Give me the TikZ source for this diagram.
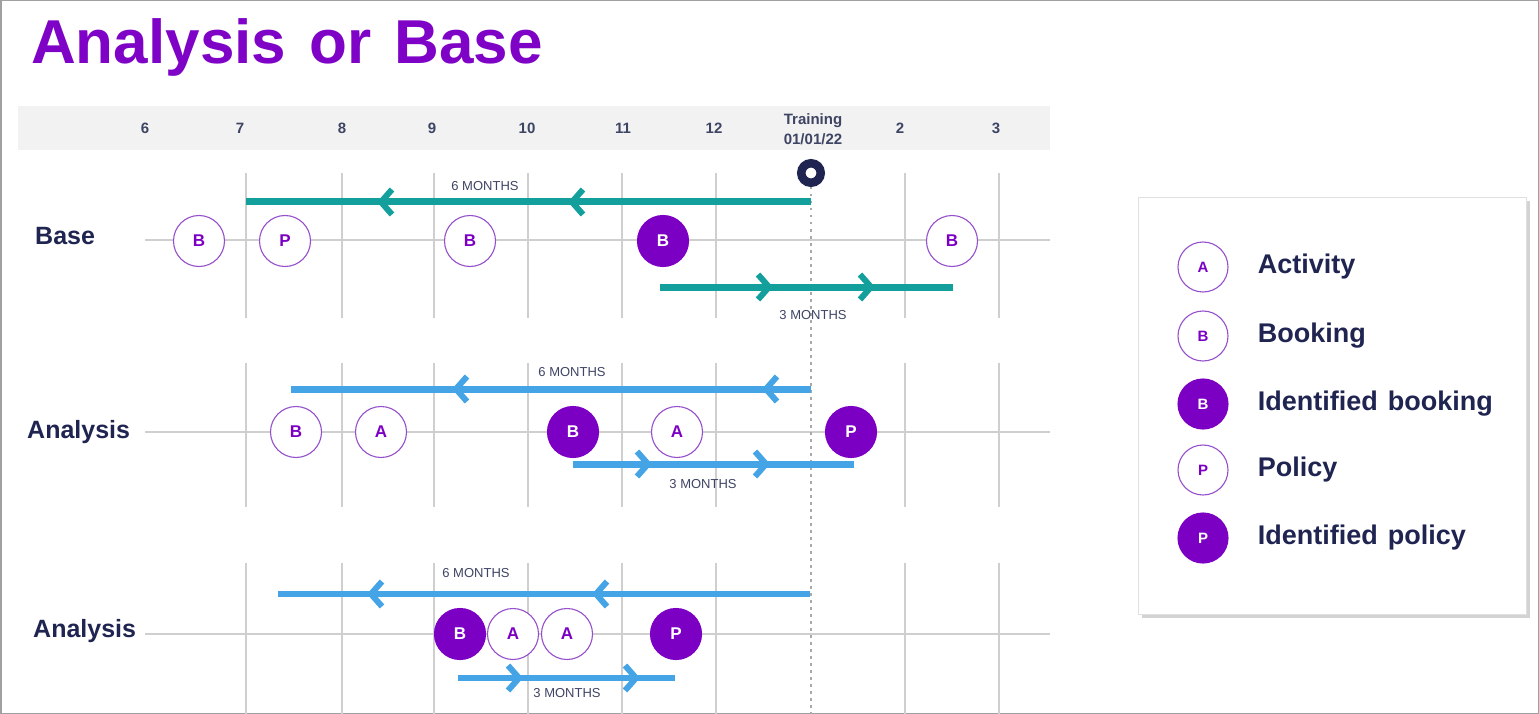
\documentclass[tikz,border=0pt]{standalone}
\usepackage{fontspec}
\setmainfont{Liberation Sans}[BoldFeatures={WordSpace=1.35}]
\usepackage{tikz}
\usetikzlibrary{arrows.meta,decorations.markings,shadows,positioning}
\definecolor{titlepurple}{HTML}{7E03C6}
\definecolor{evpurple}{HTML}{7C00C4}
\definecolor{ringpurple}{HTML}{9650CC}
\definecolor{navy}{HTML}{1F2450}
\definecolor{monthtext}{HTML}{3E4463}
\definecolor{tealrun}{HTML}{13A09C}
\definecolor{bluerun}{HTML}{45A4E6}
\definecolor{gridgray}{HTML}{CFCFCF}
\definecolor{band}{HTML}{F2F2F2}
\definecolor{framegray}{HTML}{A0A0A0}
\definecolor{dotgray}{HTML}{A9A9A9}
\tikzset{
  Chev/.tip={Straight Barb[length=11pt,width=25pt,line width=6pt]},
  Chevrons/.style 2 args={
    postaction={decorate},
    decoration={markings,
      mark=at position #1 with {\arrow{Chev}},
      mark=at position #2 with {\arrow{Chev}}}
  },
  RunTeal/.style={draw=tealrun, line width=7pt},
  RunBlue/.style={draw=bluerun, line width=7pt},
  Grid/.style={draw=gridgray, line width=1.3pt},
  Month/.style={inner sep=0pt, text=monthtext, font=\fontsize{15}{20}\selectfont\bfseries},
  RowLabel/.style={anchor=west, inner sep=0pt, text=navy, font=\fontsize{25}{25}\selectfont\bfseries},
  Span/.style={inner sep=0pt, text=monthtext, font=\fontsize{13}{13}\selectfont},
  EvCircle/.style={circle, draw=ringpurple, line width=1.1pt, fill=white,
    minimum size=51pt, inner sep=0pt, text=evpurple,
    font=\fontsize{17}{17}\selectfont\bfseries},
  EvIdent/.style={EvCircle, draw=evpurple, fill=evpurple, text=white},
  LegCircle/.style={EvCircle, minimum size=50pt, font=\fontsize{15}{15}\selectfont\bfseries},
  LegIdent/.style={LegCircle, draw=evpurple, fill=evpurple, text=white},
  LegText/.style={right=29pt of #1, anchor=west, inner sep=0pt, text=navy,
    font=\fontsize{27}{27}\selectfont\bfseries}
}

\begin{document}
\begin{tikzpicture}[x=1pt, y=-1pt]
  % canvas and frame
  \useasboundingbox (0,0) rectangle (1539,714);
  \draw[framegray, line width=1.5pt] (0.75,0.75) rectangle (1538.25,713.25);

  % title
  \node[anchor=base west, inner sep=0pt, text=titlepurple,
    font=\fontsize{62}{62}\selectfont\bfseries] (title) at (31,64) {Analysis or Base};

  % month band
  \fill[band] (18,106) rectangle (1050,150);
  \foreach \m/\x in {6/145,7/240,8/342,9/432,10/527,11/623,12/714,2/900,3/996}
    \node[Month] (m\m) at (\x,128) {\m};
  \node[Month, align=center] (train) at (813,129) {Training\\01/01/22};

  % grid
  \foreach \x in {246,342,434,528,622,716,905,999} {
    \draw[Grid] (\x,173) -- (\x,318);
    \draw[Grid] (\x,363) -- (\x,507);
    \draw[Grid] (\x,563) -- (\x,714);
  }
  \foreach \y in {240,432,634}
    \draw[Grid] (145,\y) -- (1050,\y);

  % training date marker
  \node[circle, draw=navy, fill=white, line width=8.5pt, minimum size=19.5pt,
    inner sep=0pt] (mark) at (811,173) {};
  \coordinate (dotend) at (811,714);
  \draw[dotgray, line width=2.5pt, dash pattern=on 2.5pt off 4.5pt] (mark.south) -- (dotend);

  % row labels
  \node[RowLabel] (base) at (35,236) {Base};
  \node[RowLabel] (anaA) at (27,432) {Analysis};
  \node[RowLabel] (anaB) at (33,631) {Analysis};

  % row 1
  \coordinate (r1a) at (811,202);
  \coordinate (r1b) at (246,202);
  \draw[RunTeal, Chevrons={243pt}{434pt}] (r1a) -- (r1b);
  \node[Span] (r1six) at (485,186) {6 MONTHS};
  \coordinate (r1c) at (660,287);
  \coordinate (r1d) at (953,287);
  \draw[RunTeal, Chevrons={113pt}{215pt}] (r1c) -- (r1d);
  \node[Span] (r1three) at (813,315) {3 MONTHS};

  \node[EvCircle] (r1b1) at (199,241) {B};
  \node[EvCircle] (r1p1) at (285,241) {P};
  \node[EvCircle] (r1b2) at (470,241) {B};
  \node[EvIdent]  (r1ib) at (663,241) {B};
  \node[EvCircle] (r1b3) at (952,241) {B};

  % row 2
  \coordinate (r2a) at (811,389);
  \coordinate (r2b) at (291,389);
  \draw[RunBlue, Chevrons={49pt}{359pt}] (r2a) -- (r2b);
  \node[Span] (r2six) at (572,372) {6 MONTHS};
  \coordinate (r2c) at (573,464);
  \coordinate (r2d) at (854,464);
  \draw[RunBlue, Chevrons={79pt}{197pt}] (r2c) -- (r2d);
  \node[Span] (r2three) at (703,484) {3 MONTHS};

  \node[EvCircle] (r2b1) at (296,432) {B};
  \node[EvCircle] (r2a1) at (381,432) {A};
  \node[EvIdent]  (r2ib) at (573,432) {B};
  \node[EvCircle] (r2a2) at (677,432) {A};
  \node[EvIdent]  (r2ip) at (851,432) {P};

  % row 3
  \coordinate (r3a) at (810,594);
  \coordinate (r3b) at (278,594);
  \draw[RunBlue, line width=6pt, Chevrons={218pt}{443pt}] (r3a) -- (r3b);
  \node[Span] (r3six) at (476,573) {6 MONTHS};
  \coordinate (r3c) at (458,678);
  \coordinate (r3d) at (675,678);
  \draw[RunBlue, line width=6pt, Chevrons={65pt}{182pt}] (r3c) -- (r3d);
  \node[Span] (r3three) at (567,693) {3 MONTHS};

  \node[EvIdent]  (r3ib) at (460,634) {B};
  \node[EvCircle] (r3a1) at (513,634) {A};
  \node[EvCircle] (r3a2) at (567,634) {A};
  \node[EvIdent]  (r3ip) at (676,634) {P};

  % legend
  \node[draw=black!12, fill=white, anchor=north west, inner sep=0pt,
    minimum width=388pt, minimum height=417pt,
    drop shadow={shadow xshift=4pt, shadow yshift=-4pt, opacity=0.35}] (legend) at (1138,197) {};
  \node[LegCircle] (lgA) at (1203,267) {A};
  \node[LegText=lgA] (lgAt) {Activity};
  \node[LegCircle] (lgB) at (1203,336) {B};
  \node[LegText=lgB] (lgBt) {Booking};
  \node[LegIdent] (lgIB) at (1203,404) {B};
  \node[LegText=lgIB] (lgIBt) {Identified booking};
  \node[LegCircle] (lgP) at (1203,470) {P};
  \node[LegText=lgP] (lgPt) {Policy};
  \node[LegIdent] (lgIP) at (1203,538) {P};
  \node[LegText=lgIP] (lgIPt) {Identified policy};
\end{tikzpicture}
\end{document}
